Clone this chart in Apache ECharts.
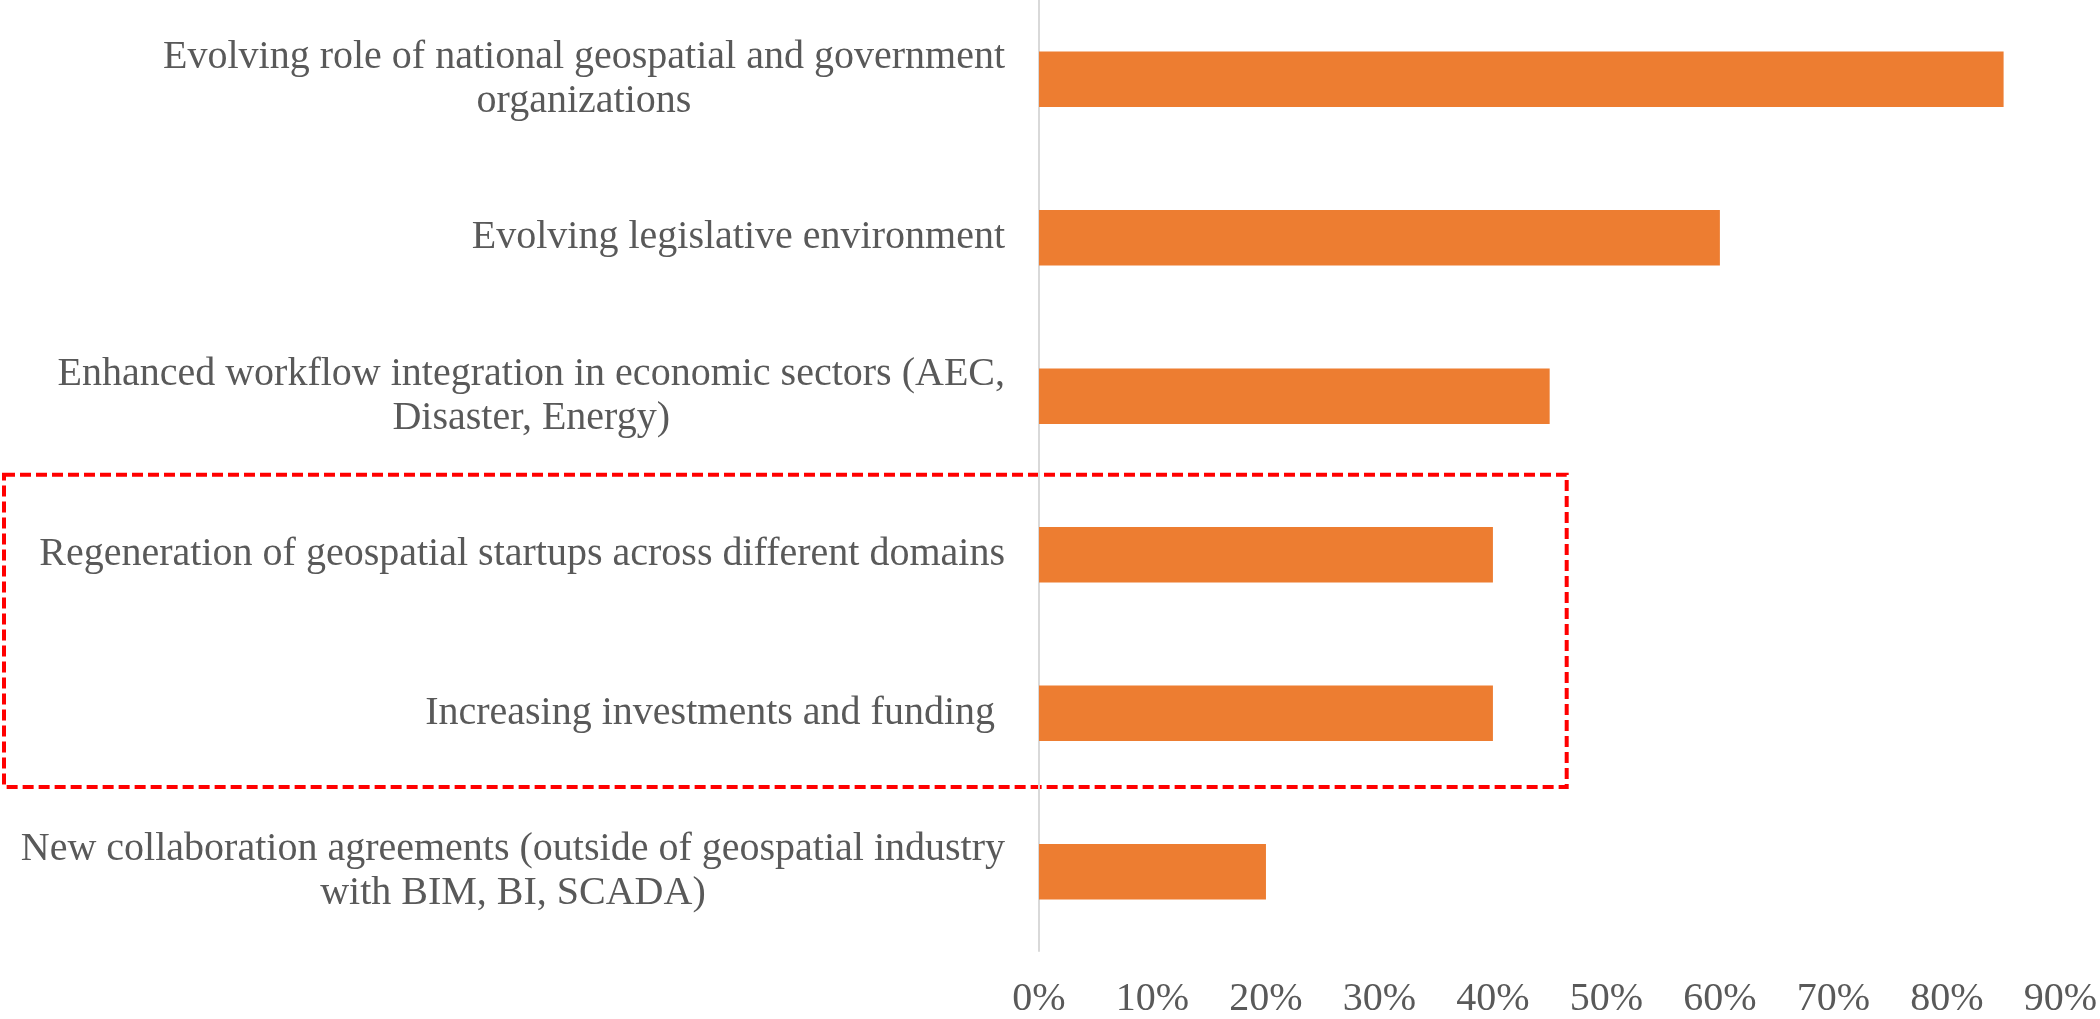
<!DOCTYPE html>
<html><head><meta charset="utf-8">
<script src="https://cdn.jsdelivr.net/npm/echarts@6/dist/echarts.min.js"></script>
<style>html,body{margin:0;padding:0;background:#fff}#c{width:2100px;height:1019px}</style>
</head><body><div id="c"></div>
<script>
const categories = [
  ["Evolving role of national geospatial and government", "organizations"],
  ["Evolving legislative environment"],
  ["Enhanced workflow integration in economic sectors (AEC,", "Disaster, Energy)"],
  ["Regeneration of geospatial startups across different domains"],
  ["Increasing investments and funding "],
  ["New collaboration agreements (outside of geospatial industry", "with BIM, BI, SCADA)"]
];
const values = [0.85, 0.60, 0.45, 0.40, 0.40, 0.20];
const xTicks = [0, 0.1, 0.2, 0.3, 0.4, 0.5, 0.6, 0.7, 0.8, 0.9];
const highlighted = [3, 4];

const FONT = '"Liberation Serif", "DejaVu Serif", serif';
const FS = 40;
const chart = echarts.init(document.getElementById('c'), null, {renderer: 'canvas'});
const catNames = categories.map((c, i) => 'c' + i);

chart.setOption({
  animation: false,
  grid: {left: 1039, right: 37, top: 0, bottom: 67, containLabel: false},
  xAxis: {
    type: 'value', min: xTicks[0], max: xTicks[xTicks.length - 1], interval: 0.1,
    axisLine: {show: false}, axisTick: {show: false}, splitLine: {show: false},
    axisLabel: {
      color: '#595959', fontFamily: FONT, fontSize: FS, margin: 28,
      formatter: v => Math.round(v * 100) + '%'
    }
  },
  yAxis: {
    type: 'category', inverse: true, data: catNames,
    axisLine: {show: true, lineStyle: {color: '#D9D9D9', width: 2}},
    axisTick: {show: false},
    axisLabel: {
      color: '#595959', fontFamily: FONT, fontSize: FS, margin: 34, align: 'right',
      lineHeight: 44,
      formatter: (v) => {
        const i = +v.slice(1);
        return categories[i].map(l => '{m|' + l + '}').join('\n');
      },
      rich: {
        m: {align: 'center', color: '#595959', fontFamily: FONT, fontSize: FS, lineHeight: 44}
      }
    }
  },
  series: [{
    type: 'bar', data: values, barWidth: '35%',
    itemStyle: {color: '#ED7D31'}, silent: true
  }]
});

function addBox() {
  const yTop = chart.convertToPixel({yAxisIndex: 0}, catNames[highlighted[0]]);
  const yBot = chart.convertToPixel({yAxisIndex: 0}, catNames[highlighted[1]]);
  const band = yBot - yTop;
  const xR = chart.convertToPixel({xAxisIndex: 0}, 0.465);
  chart.setOption({
    graphic: [{
      type: 'rect', silent: true,
      shape: {x: 4, y: yTop - band * 0.505, width: xR - 4, height: band * 1.97},
      style: {fill: 'none', stroke: '#FF0000', lineWidth: 4, lineDash: [11, 5]}
    }]
  });
}
addBox();
</script></body></html>
